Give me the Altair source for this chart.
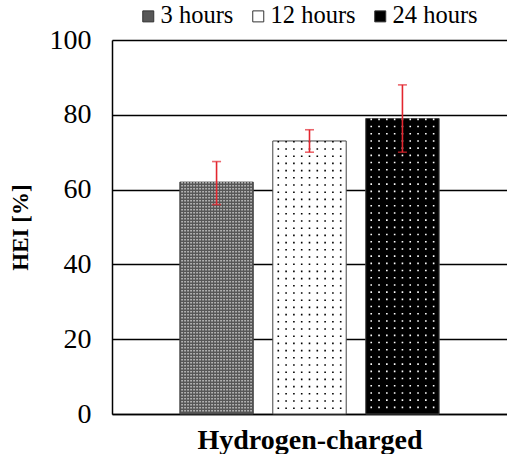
import altair as alt
import pandas as pd

series = ["3 hours", "12 hours", "24 hours"]
hei = [62, 73, 79]
err_low = [56, 70, 70]
err_high = [67.5, 76, 88]
fills = ["#575757", "#ffffff", "#000000"]

df = pd.DataFrame({"series": series, "hei": hei, "lo": err_low, "hi": err_high})

FONT = "'Times New Roman', 'Liberation Serif', Times, serif"
xscale = alt.Scale(domain=series, paddingInner=0.21, paddingOuter=0.73)
yscale = alt.Scale(domain=[0, 100], nice=False)
X = alt.X("series:N", scale=xscale, sort=series)

base = alt.Chart(df)

bars = base.mark_bar(stroke="#444444", strokeWidth=1).encode(
    x=alt.X("series:N", scale=xscale, sort=series,
            axis=alt.Axis(labels=False, ticks=False, domain=True, domainColor="black",
                          domainWidth=1.5, title="Hydrogen-charged",
                          titleFontSize=28, titleFontWeight="bold", titleColor="black",
                          titlePadding=12)),
    y=alt.Y("hei:Q", scale=yscale,
            axis=alt.Axis(values=[0, 20, 40, 60, 80, 100], grid=True, gridColor="black",
                          gridWidth=1.5, ticks=False, domain=True, domainColor="black",
                          domainWidth=1.5, labelFontSize=28,
                          labelColor="black", labelPadding=21, title="HEI [%]",
                          titleFontSize=23, titleFontWeight="bold",
                          titleColor="black", titlePadding=17)),
    fill=alt.Fill("series:N", sort=series, scale=alt.Scale(domain=series, range=fills),
                  legend=alt.Legend(title=None, orient="none", direction="horizontal",
                                    legendX=24, legendY=-36, symbolType="square",
                                    symbolSize=121, symbolStrokeColor="#333333",
                                    symbolStrokeWidth=1, labelFontSize=24.5,
                                    labelColor="black", columnPadding=12, labelOffset=0)),
)

# decorative dot textures: dotted vertical rules inside each bar
tex_layers = []
for k in range(-12, 12):
    tex_layers.append(
        base.transform_filter(alt.datum.series == series[0]).mark_rule(
            strokeWidth=1.5, strokeDash=[1.5, 1.5], xOffset=k * 3 + 1.5,
            color="#c8c8c8").encode(x=X, y=alt.Y("hei:Q", scale=yscale), y2=alt.datum(0.3))
    )
for s, col in [(series[1], "#000000"), (series[2], "#ffffff")]:
    for k in range(-4, 5):
        tex_layers.append(
            base.transform_filter(alt.datum.series == s).mark_rule(
                strokeWidth=1.6, strokeDash=[1.6, 5.6], xOffset=k * 7.8,
                color=col).encode(x=X, y=alt.Y("hei:Q", scale=yscale), y2=alt.datum(0.5))
        )

err = base.mark_rule(color="#e3262f", strokeWidth=1.6).encode(
    x=X, y=alt.Y("lo:Q", scale=yscale), y2="hi:Q")
cap_lo = base.mark_tick(color="#e3262f", thickness=1.6, size=9, orient="horizontal").encode(
    x=X, y=alt.Y("lo:Q", scale=yscale))
cap_hi = base.mark_tick(color="#e3262f", thickness=1.6, size=9, orient="horizontal").encode(
    x=X, y=alt.Y("hi:Q", scale=yscale))

chart = alt.layer(bars, *tex_layers, err, cap_lo, cap_hi).properties(
    width=395, height=374,
    autosize=alt.AutoSizeParams(type="none"),
    padding={"left": 112, "top": 40, "right": 0, "bottom": 40},
    background="white",
).configure_view(strokeWidth=0).configure(font=FONT)

chart.save("out.html", embed_options={"renderer": "svg", "actions": False})
